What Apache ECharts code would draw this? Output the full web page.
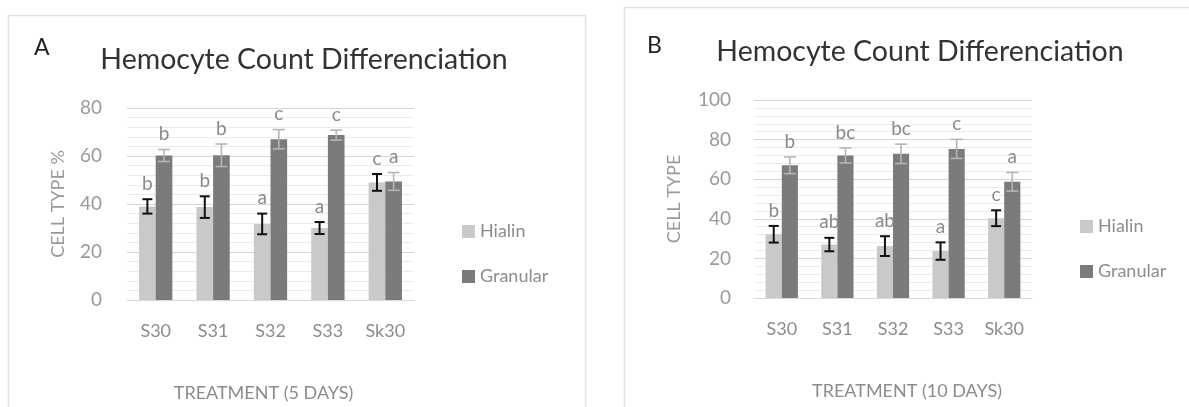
<!DOCTYPE html>
<html>
<head>
<meta charset="utf-8">
<script src="https://cdn.jsdelivr.net/npm/echarts@6/dist/echarts.min.js"></script>
<style>
html,body{margin:0;padding:0;background:#fff;}
#c{width:1189px;height:407px;}
</style>
</head>
<body>
<div id="c"></div>
<script>
// ---- data ----
const categories = ['S30', 'S31', 'S32', 'S33', 'Sk30'];

// Panel A (5 days)
const hialinA = [39, 38.7, 31.7, 30, 49];
const hialinErrA = [3, 4.5, 4.3, 2.5, 3.5];
const granularA = [60.2, 60.3, 67, 68.7, 49.4];
const granularErrA = [2.5, 4.7, 4, 2.1, 3.7];
const lettersHialinA = ['b', 'b', 'a', 'a', 'c'];
const lettersGranularA = ['b', 'b', 'c', 'c', 'a'];

// Panel B (10 days)
const hialinB = [32.2, 27, 26.2, 23.7, 40.3];
const hialinErrB = [4.2, 3.4, 5, 4.4, 4];
const granularB = [67, 72, 72.8, 75.3, 58.7];
const granularErrB = [4.2, 3.8, 4.9, 4.8, 4.7];
const lettersHialinB = ['b', 'ab', 'ab', 'a', 'c'];
const lettersGranularB = ['b', 'bc', 'bc', 'c', 'a'];

const yTicksA = { min: 0, max: 80, interval: 20 };
const yTicksB = { min: 0, max: 100, interval: 20 };

// ---- styling ----
const FONT = 'Lato, "Open Sans", sans-serif';
const HIALIN_COLOR = '#c9c9c9';
const GRANULAR_COLOR = '#7b7b7b';
const CAT_GAP = 0.42;

function errorSeries(name, gridIdx, vals, errs, letters, side, color, lw, capHalf) {
  return {
    name: name,
    type: 'custom',
    xAxisIndex: gridIdx,
    yAxisIndex: gridIdx,
    z: 5,
    clip: false,
    silent: true,
    data: vals.map((v, i) => [i, v, errs[i]]),
    renderItem: function (params, api) {
      const i = api.value(0), v = api.value(1), e = api.value(2);
      const band = api.size([1, 0])[0];
      const bw = band * (1 - CAT_GAP) / 2;
      const c = api.coord([i, v]);
      const x = c[0] + side * bw / 2;
      const top = api.coord([i, v + e])[1];
      const bot = api.coord([i, v - e])[1];
      const st = { stroke: color, lineWidth: lw };
      return {
        type: 'group',
        children: [
          { type: 'line', shape: { x1: x, y1: top, x2: x, y2: bot }, style: st },
          { type: 'line', shape: { x1: x - capHalf, y1: top, x2: x + capHalf, y2: top }, style: st },
          { type: 'line', shape: { x1: x - capHalf, y1: bot, x2: x + capHalf, y2: bot }, style: st },
          { type: 'text', style: { text: letters[params.dataIndex], x: x, y: top - 6,
              textAlign: 'center', textVerticalAlign: 'bottom',
              fill: '#8a8a8a', font: '19px ' + FONT } }
        ]
      };
    }
  };
}

function xAxisFor(gridIdx, name, pad) {
  return {
    gridIndex: gridIdx, type: 'category', data: categories,
    axisTick: { show: false },
    axisLine: { lineStyle: { color: '#d9d9d9', width: 1 } },
    axisLabel: { margin: 22, fontSize: 18, color: '#8c8c8c', fontFamily: FONT },
    name: name, nameLocation: 'middle', nameGap: 84,
    nameTextStyle: { fontSize: 18, color: '#8c8c8c', fontFamily: FONT, padding: pad }
  };
}

function yAxisFor(gridIdx, ticks, name, gap, margin) {
  return {
    gridIndex: gridIdx, type: 'value', min: ticks.min, max: ticks.max, interval: ticks.interval,
    axisLine: { show: false }, axisTick: { show: false },
    splitLine: { lineStyle: { color: '#d6d6d6', width: 1 } },
    minorTick: { show: false, splitNumber: 5 },
    minorSplitLine: { show: true, lineStyle: { color: '#ebebeb', width: 1 } },
    axisLabel: { margin: margin, fontSize: 19, color: '#9a9a9a', fontFamily: FONT },
    name: name, nameLocation: 'middle', nameGap: gap, nameRotate: 90,
    nameTextStyle: { fontSize: 18, color: '#9a9a9a', fontFamily: FONT }
  };
}

const titleStyle = { fontSize: 28.5, fontWeight: 'normal', color: '#333', fontFamily: FONT };
const panelStyle = { fontSize: 23, fontWeight: 'normal', color: '#222', fontFamily: FONT };

const option = {
  animation: false,
  backgroundColor: '#fff',
  graphic: [
    { type: 'rect', shape: { x: 8.5, y: 15.5, width: 577, height: 420 },
      style: { fill: 'none', stroke: '#e2e2e2', lineWidth: 1.5 }, silent: true, z: -10 },
    { type: 'rect', shape: { x: 624.5, y: 7.5, width: 600, height: 420 },
      style: { fill: 'none', stroke: '#e2e2e2', lineWidth: 1.5 }, silent: true, z: -10 }
  ],
  title: [
    { text: 'A', left: 29, top: 31, textStyle: panelStyle },
    { text: 'Hemocyte Count Differenciation', left: 299, top: 40, textAlign: 'center', textStyle: titleStyle },
    { text: 'B', left: 642, top: 29, textStyle: panelStyle },
    { text: 'Hemocyte Count Differenciation', left: 915, top: 32, textAlign: 'center', textStyle: titleStyle }
  ],
  legend: [
    { data: ['Hialin', 'Granular'], orient: 'vertical', left: 457, top: 217, icon: 'rect',
      itemWidth: 13, itemHeight: 13, itemGap: 26,
      textStyle: { fontSize: 18, color: '#8c8c8c', fontFamily: FONT, lineHeight: 19 } },
    { data: ['Hialin', 'Granular'], orient: 'vertical', left: 1075, top: 212, icon: 'rect',
      itemWidth: 13, itemHeight: 13, itemGap: 26,
      textStyle: { fontSize: 18, color: '#8c8c8c', fontFamily: FONT, lineHeight: 19 } }
  ],
  grid: [
    { left: 127, top: 108, width: 287, height: 192 },
    { left: 754, top: 100, width: 278, height: 198 }
  ],
  xAxis: [
    xAxisFor(0, 'TREATMENT (5 DAYS)', [0, 14, 0, 0]),
    xAxisFor(1, 'TREATMENT (10 DAYS)', [0, 0, 0, 28])
  ],
  yAxis: [
    yAxisFor(0, yTicksA, 'CELL TYPE %', 60, 25),
    yAxisFor(1, yTicksB, 'CELL TYPE', 71, 23)
  ],
  series: [
    { name: 'Hialin', type: 'bar', xAxisIndex: 0, yAxisIndex: 0, data: hialinA,
      barGap: '0%', barCategoryGap: (CAT_GAP * 100) + '%', itemStyle: { color: HIALIN_COLOR } },
    { name: 'Granular', type: 'bar', xAxisIndex: 0, yAxisIndex: 0, data: granularA,
      barGap: '0%', barCategoryGap: (CAT_GAP * 100) + '%', itemStyle: { color: GRANULAR_COLOR } },
    { name: 'Hialin', type: 'bar', xAxisIndex: 1, yAxisIndex: 1, data: hialinB,
      barGap: '0%', barCategoryGap: (CAT_GAP * 100) + '%', itemStyle: { color: HIALIN_COLOR } },
    { name: 'Granular', type: 'bar', xAxisIndex: 1, yAxisIndex: 1, data: granularB,
      barGap: '0%', barCategoryGap: (CAT_GAP * 100) + '%', itemStyle: { color: GRANULAR_COLOR } },
    errorSeries('errHA', 0, hialinA, hialinErrA, lettersHialinA, -1, '#111', 2, 5),
    errorSeries('errGA', 0, granularA, granularErrA, lettersGranularA, 1, '#b5b5b5', 1.6, 6),
    errorSeries('errHB', 1, hialinB, hialinErrB, lettersHialinB, -1, '#111', 2, 5),
    errorSeries('errGB', 1, granularB, granularErrB, lettersGranularB, 1, '#b5b5b5', 1.6, 6)
  ]
};

const chart = echarts.init(document.getElementById('c'), null, { renderer: 'canvas' });
chart.setOption(option);
</script>
</body>
</html>
